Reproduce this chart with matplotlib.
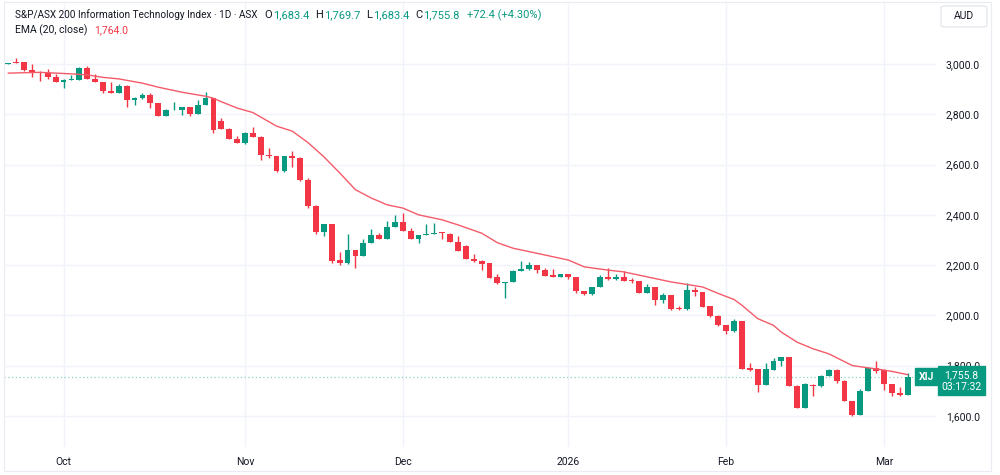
import matplotlib.pyplot as plt
from matplotlib.patches import FancyBboxPatch
import numpy as np

# daily candles, 22 Sep 2025 .. 5 Mar 2026 (trading days only)
opens = [3001, 3009, 3007, 2978, 2970, 2966, 2949, 2928, 2936, 2937,
         2984, 2941, 2928, 2893, 2884, 2914, 2858, 2864, 2878, 2845,
         2792, 2816, 2816, 2829, 2803, 2838, 2864, 2775, 2743, 2701,
         2685, 2727, 2711, 2640, 2633, 2573, 2633, 2627, 2540, 2437,
         2331, 2363, 2220, 2207, 2260, 2236, 2289, 2319, 2303, 2351,
         2371, 2337, 2304, 2319, 2323, 2329, 2324, 2291, 2276, 2225,
         2217, 2207, 2151, 2127, 2133, 2177, 2183, 2200, 2180, 2160,
         2153, 2164, 2153, 2097, 2083, 2113, 2153, 2143, 2153, 2140,
         2136, 2089, 2113, 2060, 2080, 2030, 2024, 2100, 2093, 2036,
         1999, 1960, 1936, 1976, 1789, 1787, 1724, 1784, 1820, 1833,
         1720, 1633, 1724, 1717, 1760, 1784, 1740, 1660, 1604, 1700,
         1789, 1783, 1727, 1689, 1683.4]
highs = [3005, 3023, 3009, 3000, 2974, 2979, 2960, 2941, 2957, 2989,
         2993, 2960, 2930, 2928, 2921, 2916, 2868, 2886, 2886, 2846,
         2822, 2851, 2830, 2830, 2855, 2888, 2866, 2787, 2745, 2714,
         2729, 2749, 2713, 2667, 2635, 2635, 2656, 2629, 2547, 2439,
         2363, 2365, 2251, 2324, 2262, 2303, 2343, 2327, 2375, 2400,
         2407, 2347, 2320, 2364, 2367, 2333, 2326, 2316, 2278, 2244,
         2219, 2208, 2164, 2134, 2180, 2216, 2213, 2201, 2187, 2184,
         2165, 2165, 2154, 2098, 2114, 2160, 2189, 2164, 2176, 2149,
         2137, 2124, 2114, 2089, 2081, 2037, 2129, 2113, 2094, 2037,
         2000, 1961, 1987, 1977, 1809, 1788, 1809, 1829, 1834, 1834,
         1721, 1729, 1726, 1761, 1785, 1785, 1741, 1661, 1707, 1793,
         1820, 1785, 1728, 1716, 1769.7]
lows = [3000, 3003, 2971, 2947, 2932, 2941, 2928, 2905, 2936, 2937,
        2941, 2928, 2884, 2884, 2884, 2829, 2838, 2862, 2825, 2792,
        2792, 2816, 2796, 2792, 2803, 2838, 2725, 2741, 2700, 2685,
        2683, 2709, 2620, 2627, 2571, 2571, 2591, 2536, 2427, 2325,
        2317, 2209, 2200, 2205, 2187, 2235, 2288, 2302, 2302, 2350,
        2336, 2303, 2287, 2318, 2322, 2303, 2290, 2256, 2223, 2213,
        2180, 2147, 2126, 2069, 2132, 2176, 2180, 2169, 2156, 2152,
        2152, 2144, 2090, 2082, 2082, 2112, 2142, 2142, 2136, 2127,
        2088, 2088, 2040, 2050, 2023, 2020, 2023, 2077, 2032, 1993,
        1959, 1924, 1935, 1786, 1777, 1693, 1723, 1783, 1800, 1719,
        1632, 1632, 1680, 1716, 1759, 1729, 1659, 1600, 1603, 1699,
        1771, 1703, 1677, 1677, 1683.4]
closes = [3004, 3006, 2978, 2970, 2967, 2949, 2928, 2937, 2939, 2984,
          2941, 2928, 2893, 2884, 2914, 2858, 2864, 2878, 2845, 2792,
          2816, 2818, 2829, 2803, 2838, 2864, 2737, 2743, 2701, 2685,
          2727, 2711, 2640, 2633, 2573, 2633, 2627, 2540, 2437, 2331,
          2363, 2216, 2207, 2260, 2236, 2289, 2319, 2303, 2351, 2371,
          2337, 2304, 2319, 2324, 2327, 2327, 2291, 2258, 2225, 2216,
          2204, 2149, 2127, 2133, 2177, 2184, 2200, 2180, 2157, 2153,
          2164, 2153, 2097, 2083, 2113, 2153, 2143, 2153, 2137, 2137,
          2089, 2113, 2060, 2080, 2027, 2024, 2100, 2093, 2033, 1996,
          1960, 1936, 1977, 1787, 1784, 1724, 1787, 1820, 1833, 1720,
          1633, 1727, 1717, 1760, 1784, 1740, 1660, 1604, 1700, 1791,
          1780, 1727, 1689, 1683, 1755.8]

# EMA(20, close), at candle index
ema_idx = [0, 4, 8, 10, 12, 14, 17, 19, 22, 25, 26, 27, 29, 31, 34, 36, 38,
           40, 42, 44, 46, 48, 50, 52, 55, 57, 60, 62, 64, 67, 71, 73, 76,
           78, 81, 84, 86, 88, 90, 92, 93, 95, 97, 98, 100, 102, 104, 107,
           109, 110, 112, 114]
ema_val = [2964, 2967, 2961, 2957, 2947, 2941, 2924, 2908, 2888, 2872, 2864,
           2850, 2825, 2807, 2753, 2733, 2687, 2631, 2567, 2500, 2467, 2440,
           2427, 2400, 2380, 2360, 2327, 2289, 2267, 2247, 2220, 2193, 2180,
           2173, 2153, 2133, 2123, 2113, 2087, 2063, 2040, 1987, 1960, 1933,
           1893, 1867, 1847, 1800, 1791, 1787, 1777, 1764]

month_idx = [7, 30, 50, 71, 91, 111]
month_labels = ["Oct", "Nov", "Dec", "2026", "Feb", "Mar"]
price_ticks = [1600, 1800, 2000, 2200, 2400, 2600, 2800, 3000]

UP = "#089981"
DOWN = "#F23645"
TXT = "#131722"
GRID = "#f0f3fa"
FONT = "Roboto"

plt.rcParams["font.family"] = [FONT, "DejaVu Sans"]

W, H = 1000, 475
fig = plt.figure(figsize=(W / 100, H / 100), dpi=100)
ax = fig.add_axes([4 / W, 1 - 447 / H, 932 / W, 445 / H])

o = np.array(opens, dtype=float)
h = np.array(highs, dtype=float)
l = np.array(lows, dtype=float)
c = np.array(closes, dtype=float)
x = np.arange(len(c))
colors = np.where(c >= o, UP, DOWN)

ax.vlines(x, l, h, colors=colors, linewidth=1, zorder=3)
body = np.maximum(np.abs(c - o), 3)
ax.bar(x, body, bottom=np.minimum(o, c), width=0.74, color=colors,
       linewidth=0, zorder=4)

ax.plot(ema_idx, ema_val, color="#f45b69", linewidth=1, zorder=5)
ax.axhline(c[-1], color=UP, linestyle=(0, (1, 2)), linewidth=0.9,
           alpha=0.45, zorder=2)

ax.set_xlim(-0.55, 117.6)
ax.set_ylim(1476, 3247)
ax.set_yticks(price_ticks, [f"{v:,.1f}" for v in price_ticks])
ax.set_xticks(month_idx, month_labels)
ax.yaxis.tick_right()
ax.tick_params(axis="y", length=0, pad=7, labelsize=7.5, labelcolor=TXT)
ax.tick_params(axis="x", length=0, pad=7, labelsize=7.5, labelcolor=TXT)
ax.grid(True, color=GRID, linewidth=1)
ax.set_axisbelow(True)
for s in ax.spines.values():
    s.set_visible(False)

# header legend: (text, colour, gap before in pt, font size)
def text_row(y, parts):
    s0, col0, size0 = parts[0]
    prev = fig.text(15 / W, 1 - y / H, s0, color=col0,
                    fontsize=size0, va="center", ha="left")
    for s, col, gap, size in parts[1:]:
        prev = ax.annotate(s, xy=(1, 0.5), xycoords=prev, xytext=(gap, 0),
                           textcoords="offset points", va="center",
                           ha="left", color=col, fontsize=size,
                           annotation_clip=False)

text_row(15, [("S&P/ASX 200 Information Technology Index · 1D · ASX", TXT, 7.2),
              ("O", TXT, 5, 8), ("1,683.4", UP, 0.5, 8),
              ("H", TXT, 4.3, 8), ("1,769.7", UP, 0.5, 8),
              ("L", TXT, 4.3, 8), ("1,683.4", UP, 0.5, 8),
              ("C", TXT, 4.3, 8), ("1,755.8", UP, 0.5, 8),
              ("+72.4 (+4.30%)", UP, 5.5, 8)])
text_row(30, [("EMA (20, close)", TXT, 7.5), ("1,764.0", DOWN, 5, 7.5)])

# last price labels
yax = ax.get_yaxis_transform()
ax.annotate("XIJ", xy=(1, c[-1]), xycoords=yax, xytext=(-7, 0),
            textcoords="offset points", ha="center", va="center",
            color="white", fontsize=7.5, fontweight="bold",
            bbox=dict(boxstyle="square,pad=0.35", fc=UP, ec=UP),
            annotation_clip=False, zorder=10)
ax.annotate(f"{c[-1]:,.1f}\n03:17:32", xy=(1, c[-1]), xycoords=yax,
            xytext=(18.5, 5), textcoords="offset points", ha="center",
            va="top", color="white", fontsize=7.5, linespacing=1.25,
            bbox=dict(boxstyle="square,pad=0.35", fc=UP, ec=UP),
            annotation_clip=False, zorder=10)

# currency box and outer frame
fig.patches.append(FancyBboxPatch((941 / W, 1 - 27 / H), 46 / W, 21 / H,
                                  boxstyle="round,pad=0,rounding_size=0.004",
                                  transform=fig.transFigure, fc="white",
                                  ec="#e0e3eb", lw=0.8))
fig.text(964 / W, 1 - 16 / H, "AUD", ha="center", va="center",
         fontsize=7.5, color=TXT)
fig.patches.append(plt.Rectangle((4 / W, 1 - 471 / H), 987 / W, 469 / H,
                                 transform=fig.transFigure, fill=False,
                                 ec="#e9ecf2", lw=0.8))

fig.savefig("out.png", dpi=100, facecolor="white")
